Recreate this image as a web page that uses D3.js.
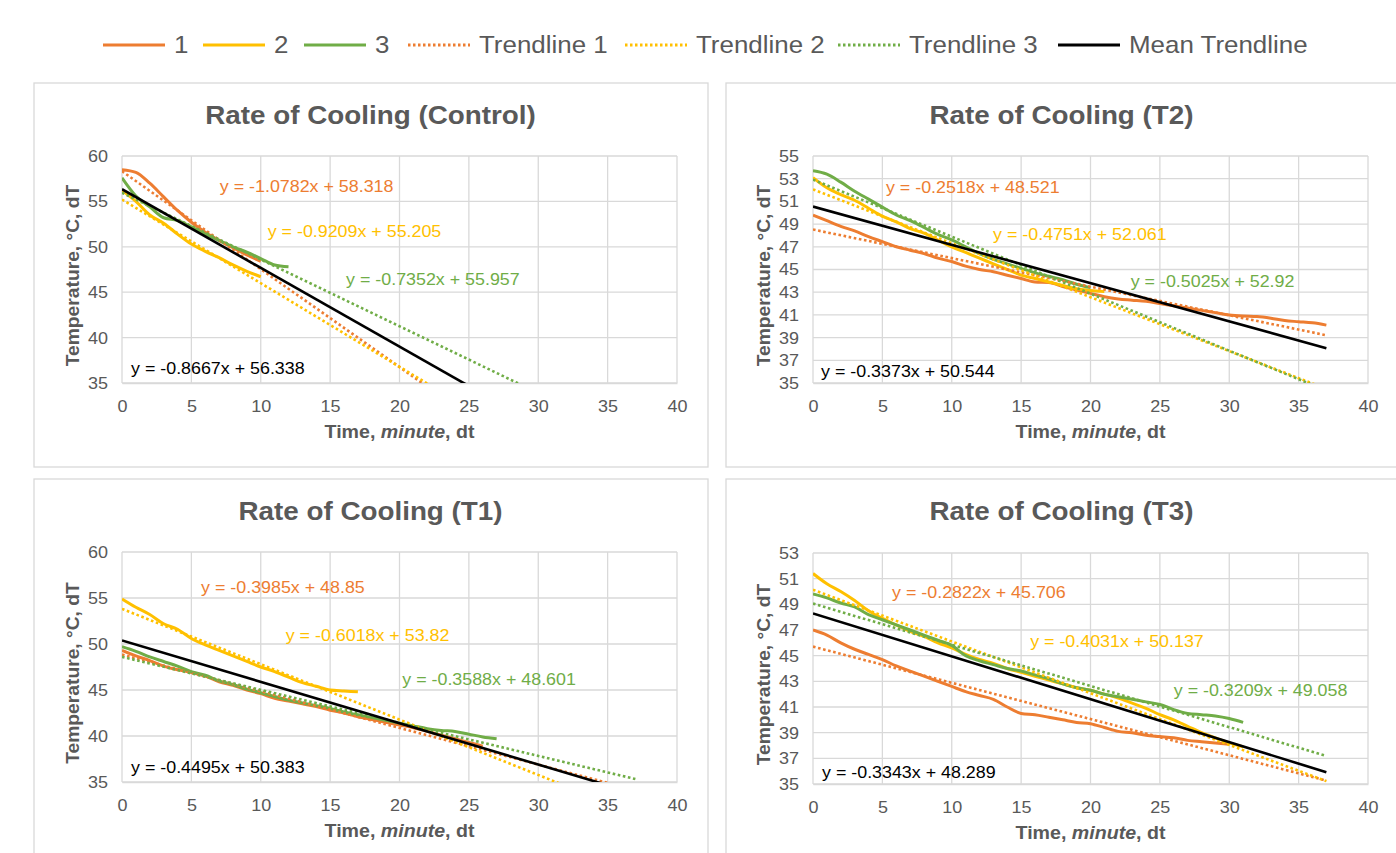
<!DOCTYPE html>
<html>
<head>
<meta charset="utf-8">
<script src="https://cdn.jsdelivr.net/npm/d3@7"></script>
<style>
  body { margin: 0; background: #fff; }
  svg { display: block; font-family: "Liberation Sans", Arial, sans-serif; }
</style>
</head>
<body>
<svg id="chart" width="1396" height="853"></svg>
<script>
// ---------------- DATA ----------------
const panelTitles = ["Rate of Cooling (Control)", "Rate of Cooling (T2)", "Rate of Cooling (T1)", "Rate of Cooling (T3)"];
const seriesNames = ["1", "2", "3"];
const xTicks = [0, 5, 10, 15, 20, 25, 30, 35, 40];
const yTicksControl = [35, 40, 45, 50, 55, 60];
const yTicksT2 = [35, 37, 39, 41, 43, 45, 47, 49, 51, 53, 55];
const yTicksT1 = [35, 40, 45, 50, 55, 60];
const yTicksT3 = [35, 37, 39, 41, 43, 45, 47, 49, 51, 53];

// temperatures at each whole minute (index = minute)
const control1 = [58.5, 58.2, 57.0, 55.5, 54.0, 52.7, 51.6, 50.7, 49.9, 49.1, 48.4];
const control2 = [56.2, 55.0, 53.5, 52.6, 51.4, 50.3, 49.5, 48.8, 48.0, 47.3, 46.7];
const control3 = [57.6, 55.6, 54.4, 53.2, 52.9, 52.2, 51.4, 50.7, 50.0, 49.4, 48.7, 48.0, 47.8];

const t2_1 = [49.8, 49.3, 48.8, 48.4, 47.9, 47.45, 47.0, 46.7, 46.4, 46.0, 45.7, 45.3, 45.0, 44.8, 44.5, 44.2, 43.9, 43.85, 43.5, 43.2, 42.9, 42.6, 42.4, 42.3, 42.2, 42.0, 41.8, 41.6, 41.4, 41.2, 41.0, 40.9, 40.85, 40.7, 40.5, 40.4, 40.3, 40.1];
const t2_2 = [53.1, 52.2, 51.6, 51.1, 50.4, 49.7, 49.2, 48.6, 48.2, 47.6, 47.0, 46.5, 46.0, 45.5, 45.0, 44.5, 44.2, 43.9, 43.6, 43.3, 43.15, 43.05];
const t2_3 = [53.7, 53.4, 52.7, 51.9, 51.2, 50.5, 49.8, 49.3, 48.7, 48.1, 47.6, 47.0, 46.4, 45.9, 45.5, 45.1, 44.7, 44.4, 44.1, 43.7, 43.4];

const t1_1 = [49.3, 48.7, 48.2, 47.6, 47.2, 46.9, 46.5, 45.9, 45.5, 45.0, 44.6, 44.1, 43.8, 43.5, 43.2, 42.8, 42.5, 42.1, 41.8, 41.5, 41.2, 40.9, 40.5, 40.1, 39.7, 39.3, 38.9];
const t1_2 = [54.9, 54.0, 53.2, 52.2, 51.6, 50.6, 49.9, 49.3, 48.7, 48.1, 47.5, 47.0, 46.4, 45.8, 45.4, 45.0, 44.9, 44.8];
const t1_3 = [49.7, 49.2, 48.6, 48.1, 47.6, 47.0, 46.6, 46.0, 45.6, 45.1, 44.7, 44.3, 43.9, 43.6, 43.3, 43.0, 42.6, 42.3, 42.0, 41.7, 41.4, 41.1, 40.8, 40.6, 40.5, 40.2, 39.9, 39.7];

const t3_1 = [47.0, 46.6, 46.0, 45.5, 45.1, 44.7, 44.2, 43.8, 43.4, 43.0, 42.6, 42.2, 41.9, 41.6, 41.0, 40.5, 40.4, 40.2, 40.0, 39.8, 39.7, 39.4, 39.1, 39.0, 38.8, 38.7, 38.6, 38.4, 38.3, 38.2, 38.1];
const t3_2 = [51.4, 50.6, 50.0, 49.3, 48.5, 47.9, 47.4, 46.9, 46.5, 46.0, 45.6, 45.1, 44.7, 44.4, 44.0, 43.7, 43.4, 43.1, 42.8, 42.5, 42.3, 42.0, 41.7, 41.3, 40.9, 40.4, 40.0, 39.5, 39.0, 38.6, 38.2, 37.9];
const t3_3 = [49.8, 49.5, 49.1, 48.8, 48.2, 47.8, 47.4, 47.0, 46.6, 46.2, 45.8, 45.0, 44.6, 44.3, 44.0, 43.8, 43.5, 43.2, 42.8, 42.5, 42.3, 42.0, 41.8, 41.6, 41.4, 41.2, 40.8, 40.5, 40.4, 40.3, 40.1, 39.8];

// linear trendlines: [slope, intercept] for series 1, 2, 3 and the mean
const trendControl = [[-1.0782, 58.318], [-0.9209, 55.205], [-0.7352, 55.957]];
const trendT2 = [[-0.2518, 48.521], [-0.4751, 52.061], [-0.5025, 52.92]];
const trendT1 = [[-0.3985, 48.85], [-0.6018, 53.82], [-0.3588, 48.601]];
const trendT3 = [[-0.2822, 45.706], [-0.4031, 50.137], [-0.3209, 49.058]];
const meanTrend = [[-0.8667, 56.338], [-0.3373, 50.544], [-0.4495, 50.383], [-0.3343, 48.289]];
const trendEnd = 37; // minutes the trendlines are drawn to

// ---------------- STYLE / LAYOUT ----------------
const colors = ["#ED7D31", "#FFC000", "#70AD47"];
const textGray = "#595959";
const gridGray = "#d9d9d9";

const panels = [
  { title: panelTitles[0], series: [control1, control2, control3], trend: trendControl, mean: meanTrend[0],
    yTicks: yTicksControl, box: [34, 83, 674, 384], plot: [122, 156, 677, 383],
    labelPos: [[7.05, 56.7], [10.5, 51.7], [16.15, 46.45], [0.65, 36.65]] },
  { title: panelTitles[1], series: [t2_1, t2_2, t2_3], trend: trendT2, mean: meanTrend[1],
    yTicks: yTicksT2, box: [726, 83, 700, 384], plot: [813, 156, 1368, 383],
    labelPos: [[5.26, 52.27], [12.98, 48.13], [22.9, 44.0], [0.58, 36.06]] },
  { title: panelTitles[2], series: [t1_1, t1_2, t1_3], trend: trendT1, mean: meanTrend[2],
    yTicks: yTicksT1, box: [34, 479, 674, 400], plot: [122, 552, 677, 782],
    labelPos: [[5.7, 56.2], [11.8, 50.98], [20.2, 46.2], [0.65, 36.6]] },
  { title: panelTitles[3], series: [t3_1, t3_2, t3_3], trend: trendT3, mean: meanTrend[3],
    yTicks: yTicksT3, box: [726, 479, 700, 400], plot: [813, 553, 1368, 784],
    labelPos: [[5.7, 49.96], [15.65, 46.14], [26.0, 42.32], [0.65, 35.93]] }
];

const svg = d3.select("#chart");
const defs = svg.append("defs");

// widen glyphs horizontally (reference text is slightly wider than Liberation Sans)
function stretch(sel, sx, extra) {
  sel.each(function () {
    const t = d3.select(this);
    const x = +t.attr("x") || 0, y = +t.attr("y") || 0;
    t.attr("x", 0).attr("y", 0)
      .attr("transform", `translate(${x},${y}) ${extra || ""} scale(${sx},1)`);
  });
}

// ---------------- LEGEND ----------------
const legendItems = [
  { label: seriesNames[0], color: colors[0], dotted: false, x: 103 },
  { label: seriesNames[1], color: colors[1], dotted: false, x: 203 },
  { label: seriesNames[2], color: colors[2], dotted: false, x: 304 },
  { label: "Trendline 1", color: colors[0], dotted: true, x: 408 },
  { label: "Trendline 2", color: colors[1], dotted: true, x: 625 },
  { label: "Trendline 3", color: colors[2], dotted: true, x: 838 },
  { label: "Mean Trendline", color: "#000", dotted: false, x: 1058 }
];
const lg = svg.append("g");
legendItems.forEach(it => {
  lg.append("line").attr("x1", it.x).attr("x2", it.x + 62).attr("y1", 45).attr("y2", 45)
    .attr("stroke", it.color).attr("stroke-width", 3)
    .attr("stroke-dasharray", it.dotted ? "2.5,2.5" : null);
  const t = lg.append("text").attr("x", it.x + 71).attr("y", 45).attr("dy", "0.35em")
    .attr("font-size", 24).attr("fill", textGray).text(it.label);
  stretch(t, 1.08);
});

// ---------------- PANELS ----------------
panels.forEach((p, pi) => {
  const g = svg.append("g");
  const [bx, by, bw, bh] = p.box;
  g.append("rect").attr("x", bx).attr("y", by).attr("width", bw).attr("height", bh)
    .attr("fill", "#fff").attr("stroke", gridGray).attr("stroke-width", 1.3);

  const [x0, y0, x1, y1] = p.plot;
  const x = d3.scaleLinear().domain([0, 40]).range([x0, x1]);
  const y = d3.scaleLinear().domain([d3.min(p.yTicks), d3.max(p.yTicks)]).range([y1, y0]);

  // title
  const title = g.append("text").attr("x", (x0 + x1) / 2 - 29)
    .attr("y", by + 32).attr("dy", "0.35em").attr("text-anchor", "middle")
    .attr("font-size", 26).attr("font-weight", "bold").attr("fill", textGray).text(p.title);
  stretch(title, 1.07);

  // grid
  const grid = g.append("g");
  grid.selectAll(".hg").data(p.yTicks).join("line")
    .attr("x1", x0).attr("x2", x1).attr("y1", d => y(d)).attr("y2", d => y(d))
    .attr("stroke", gridGray).attr("stroke-width", 1.3);
  grid.selectAll(".vg").data(xTicks).join("line")
    .attr("x1", d => x(d)).attr("x2", d => x(d)).attr("y1", y0).attr("y2", y1)
    .attr("stroke", gridGray).attr("stroke-width", 1.3);

  // axes
  const xAxis = g.append("g").attr("transform", `translate(0,${y1})`)
    .call(d3.axisBottom(x).tickValues(xTicks).tickSize(0).tickPadding(17));
  const yAxis = g.append("g").attr("transform", `translate(${x0},0)`)
    .call(d3.axisLeft(y).tickValues(p.yTicks).tickSize(0).tickPadding(14));
  [xAxis, yAxis].forEach(a => {
    a.select(".domain").attr("stroke", gridGray).attr("stroke-width", 1.3);
    a.selectAll("text").attr("font-size", 17).attr("fill", textGray)
      .attr("font-family", "'Liberation Sans', Arial, sans-serif");
  });
  yAxis.select(".domain").remove();
  stretch(xAxis.selectAll("text"), 1.06);
  yAxis.selectAll("text").each(function () {
    const t = d3.select(this);
    const xx = +t.attr("x") || 0;
    t.attr("x", 0).attr("transform", `translate(${xx},0) scale(1.06,1)`);
  });

  // axis titles
  const xt = g.append("text").attr("x", (x0 + x1) / 2).attr("y", y1 + 49).attr("dy", "0.35em")
    .attr("text-anchor", "middle").attr("font-size", 18).attr("font-weight", "bold").attr("fill", textGray);
  xt.append("tspan").text("Time, ");
  xt.append("tspan").attr("font-style", "italic").text("minute");
  xt.append("tspan").text(", dt");
  stretch(xt, 1.09);
  g.append("text").attr("transform", `translate(${x0 - 49},${(y0 + y1) / 2 + 6}) rotate(-90) scale(1.07,1)`)
    .attr("dy", "0.35em").attr("text-anchor", "middle").attr("font-size", 18).attr("font-weight", "bold")
    .attr("fill", textGray).text("Temperature, °C, dT");

  // clip
  const clipId = "clip" + pi;
  defs.append("clipPath").attr("id", clipId).append("rect")
    .attr("x", x0).attr("y", y0 - 2).attr("width", x1 - x0).attr("height", y1 - y0 + 2);
  const plot = g.append("g").attr("clip-path", `url(#${clipId})`);

  const line = d3.line().x(d => x(d[0])).y(d => y(d[1])).curve(d3.curveMonotoneX);

  // data series
  p.series.forEach((s, si) => {
    plot.append("path").datum(s.map((v, i) => [i, v])).attr("d", line)
      .attr("fill", "none").attr("stroke", colors[si]).attr("stroke-width", 3)
      .attr("stroke-linejoin", "round");
  });
  // trendlines
  p.trend.forEach((t, si) => {
    plot.append("line").attr("x1", x(0)).attr("y1", y(t[1]))
      .attr("x2", x(trendEnd)).attr("y2", y(t[0] * trendEnd + t[1]))
      .attr("stroke", colors[si]).attr("stroke-width", 2.6).attr("stroke-dasharray", "2.6,2.6");
  });
  // mean trendline
  plot.append("line").attr("x1", x(0)).attr("y1", y(p.mean[1]))
    .attr("x2", x(trendEnd)).attr("y2", y(p.mean[0] * trendEnd + p.mean[1]))
    .attr("stroke", "#000").attr("stroke-width", 2.6);

  // equation labels
  const eqs = p.trend.concat([p.mean]);
  eqs.forEach((t, i) => {
    const lab = g.append("text").attr("x", x(p.labelPos[i][0])).attr("y", y(p.labelPos[i][1])).attr("dy", "0.35em")
      .attr("font-size", 17).attr("fill", i < 3 ? colors[i] : "#000")
      .text(`y = ${t[0]}x + ${t[1]}`);
    stretch(lab, 1.05);
  });
});
</script>
</body>
</html>
